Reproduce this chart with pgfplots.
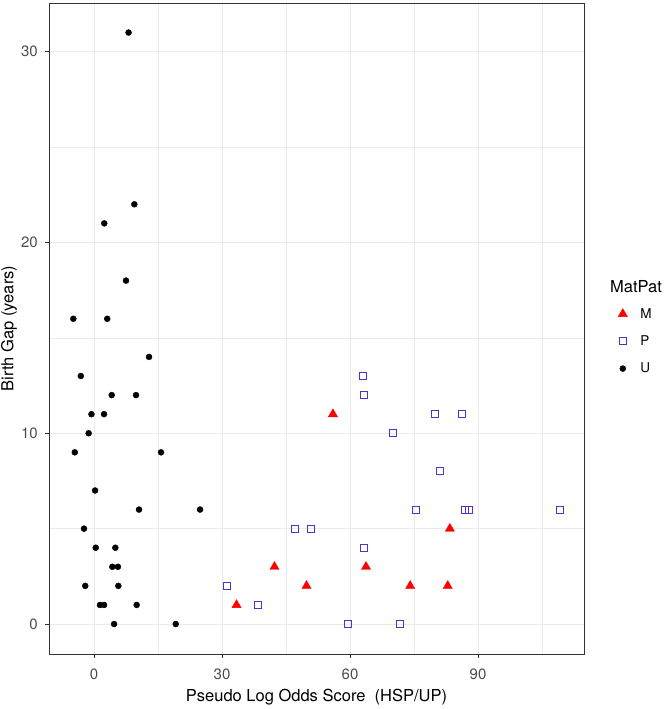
\documentclass[border=0pt]{standalone}
\usepackage{fontspec}
\setmainfont{TeX Gyre Heros}
\usepackage{pgfplots}
\pgfplotsset{compat=1.18}
\definecolor{gridc}{HTML}{EBEBEB}
\definecolor{borderc}{HTML}{333333}
\definecolor{tickc}{HTML}{4D4D4D}
\definecolor{pblue}{RGB}{80,50,200}
\newcommand{\ticksize}{\fontsize{15}{17}\selectfont}
\newcommand{\legsize}{\fontsize{13.5}{15}\selectfont}
\newcommand{\titlesize}{\fontsize{16.5}{19}\selectfont}
\begin{document}
\begin{tikzpicture}
\useasboundingbox (0,0) rectangle (664pt,709pt);
\begin{axis}[
  at={(49pt,55pt)}, anchor=south west,
  scale only axis, width=535pt, height=651pt,
  xmin=-10.55, xmax=114.84, ymin=-1.57, ymax=32.55,
  xtick={0,30,60,90}, ytick={0,10,20,30},
  minor xtick={15,45,75,105}, minor ytick={5,15,25},
  grid=both,
  major grid style={draw=gridc, line width=1pt},
  minor grid style={draw=gridc, line width=0.5pt},
  tick align=outside, tick pos=left,
  major tick length=4pt, minor tick length=0pt,
  tick style={draw=borderc, line width=0.8pt},
  axis line style={draw=borderc, line width=0.8pt},
  /pgf/number format/assume math mode=true,
  xticklabel style={font=\ticksize, text=tickc, anchor=base, inner sep=0pt, yshift=-21pt},
  yticklabel style={font=\ticksize, text=tickc, anchor=east, inner sep=0pt, xshift=-7pt},
  xlabel={Pseudo Log Odds Score\ \ (HSP/UP)},
  ylabel={Birth Gap (years)},
  xlabel style={font=\titlesize, at={(axis description cs:0.5,-0.0733)}, anchor=base, inner sep=0pt},
  ylabel style={font=\titlesize, at={(axis description cs:-0.0748,0.5)}, anchor=center, inner sep=0pt},
  legend style={at={(axis description cs:1.0636,0.5345)}, anchor=north west, draw=none, fill=none,
    font=\legsize, row sep=12pt, inner sep=0pt,
    nodes={inner sep=2pt},
    /tikz/every odd column/.append style={column sep=11pt}},
  legend cell align=left,
]
\addplot[only marks, mark=triangle*, mark size=5.3pt, color=red, fill=red] coordinates {
(56.0,11) (83.4,5) (42.3,3) (63.75,3) (49.8,2) (74.1,2) (82.9,2) (33.4,1)
};
\addlegendentry{M}
\addplot[only marks, mark=square, mark size=3.5pt, color=pblue, line width=1pt] coordinates {
(63.0,13) (63.2,12) (79.9,11) (86.25,11) (70.1,10) (81.1,8) (75.55,6) (86.95,6) (87.95,6)
(109.3,6) (47.05,5) (50.9,5) (63.35,4) (31.2,2) (38.5,1) (59.45,0) (71.65,0)
};
\addlegendentry{P}
\addplot[only marks, mark=*, mark size=3pt, color=black] coordinates {
(7.5,18) (-4.85,16) (3.1,16) (12.9,14) (-3.1,13) (4.15,12) (9.85,12) (-0.6,11) (2.35,11)
(-1.25,10) (-4.5,9) (15.7,9) (0.25,7) (10.55,6) (24.85,6) (-2.35,5) (0.4,4) (5.0,4)
(4.3,3) (5.6,3) (-2.05,2) (5.7,2) (1.4,1) (2.35,1) (10.0,1) (4.7,0) (19.15,0)
(8.1,31) (9.45,22) (2.4,21)
};
\addlegendentry{U}
\end{axis}
\node[font=\titlesize, anchor=west, inner sep=0pt] at (610pt,422pt) {MatPat};
\end{tikzpicture}
\end{document}
